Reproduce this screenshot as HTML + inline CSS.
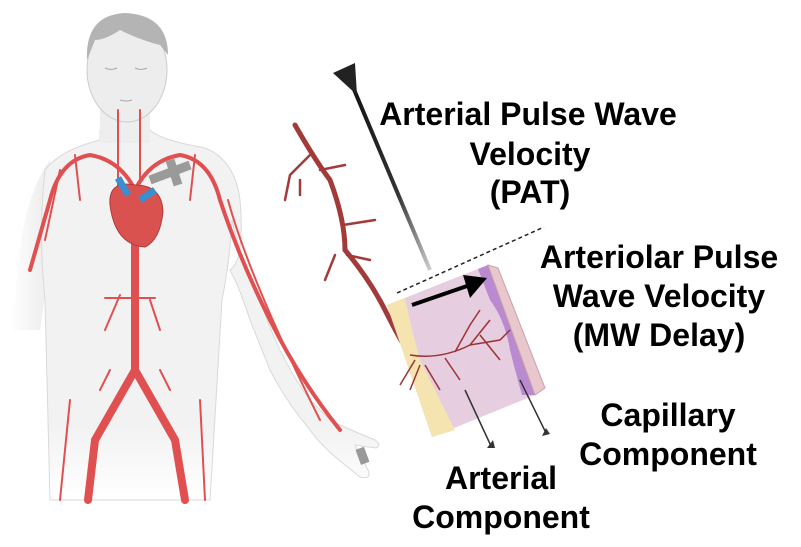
<!DOCTYPE html>
<html><head><style>
html,body{margin:0;padding:0;background:#fff;}
svg{display:block;}
text{font-family:"Liberation Sans",Arial,sans-serif;font-weight:bold;font-size:32px;fill:#000;}
</style></head><body>
<svg width="801" height="547" viewBox="0 0 801 547" xmlns="http://www.w3.org/2000/svg">
<defs>
<linearGradient id="fadeB" x1="0" y1="0" x2="0" y2="1">
<stop offset="0.8" stop-color="#f2f2f2"/><stop offset="1" stop-color="#fff"/></linearGradient>
<linearGradient id="fadeL" x1="0" y1="0" x2="1" y2="0">
<stop offset="0" stop-color="#fff"/><stop offset="0.6" stop-color="#f0f0f0"/></linearGradient>
<linearGradient id="stick" x1="0" y1="0" x2="1" y2="1">
<stop offset="0" stop-color="#111"/><stop offset="0.6" stop-color="#333"/><stop offset="1" stop-color="#ccc"/></linearGradient>
</defs>
<path d="M50,160 Q20,200 15,300 L10,330 L40,330 Q50,260 60,200 Z" fill="url(#fadeL)"/>
<path d="M100,130 L100,140 Q60,150 45,170 Q38,230 45,300 L50,500 L210,500 L222,300 Q230,260 232,220 Q240,260 260,300 Q280,360 310,400 L330,420 Q350,430 375,440 Q382,445 376,448 L355,445 L368,470 Q372,480 360,477 L345,465 Q320,445 310,430 Q285,400 270,370 L250,320 Q240,290 235,280 L230,270 Q245,260 240,200 Q235,160 205,148 Q160,140 150,130 Z" fill="url(#fadeB)" stroke="#d9d9d9" stroke-width="1"/>
<rect x="100" y="95" width="50" height="48" fill="#eee"/>
<ellipse cx="127" cy="70" rx="40" ry="52" fill="#ededed" stroke="#ccc"/>
<path d="M87,60 Q85,15 125,13 Q168,15 168,55 L160,45 Q140,40 120,30 Q105,40 95,40 Z" fill="#b4b4b4"/>
<path d="M105,68 q6,3 12,0 M135,68 q6,3 12,0 M120,100 q6,2 12,0" stroke="#aaa" fill="none"/>
<g stroke="#e05050" fill="none" stroke-linecap="round">
<path d="M135,240 L135,370 L95,440 L88,500 M135,370 L175,440 L185,500" stroke-width="8"/>
<path d="M135,190 Q120,160 90,155 Q60,160 50,200 L30,270 M135,190 Q150,160 180,155 Q210,160 220,200 Q240,260 270,320 Q300,380 340,430" stroke-width="4"/>
<path d="M118,190 L118,110 M140,180 L140,110 M105,298 L155,298 M120,295 L105,330 M150,300 L160,330 M110,370 L100,390 M160,370 L170,390 M70,400 L60,500 M200,400 L205,500 M228,200 Q250,280 320,420 M60,170 L45,240 M75,155 L80,200 M195,155 L190,200" stroke-width="2"/>
</g>
<path d="M110,205 Q108,180 135,185 Q162,185 163,212 Q160,240 145,247 Q115,245 110,205Z" fill="#d9524f" stroke="#b03a3a"/>
<path d="M118,178 L128,195 M140,200 L155,190" stroke="#3a8fd0" stroke-width="7"/>
<path d="M150,180 L190,165 M170,160 L178,185" stroke="#9a9a9a" stroke-width="9"/>
<rect x="358" y="448" width="9" height="16" fill="#999" transform="rotate(-20 362 456)"/>
<g stroke="#a33a3a" fill="none" stroke-linecap="round">
<path d="M295,125 Q315,160 330,180 Q345,220 345,250 Q370,280 385,310 Q400,340 410,355" stroke-width="5"/>
<path d="M310,155 L290,175 L285,200 M320,170 L345,165 M300,180 L300,195 M343,225 L375,220 M335,255 L325,280 M347,255 L370,260" stroke-width="2.5"/>
</g>
<line x1="350" y1="80" x2="430" y2="270" stroke="url(#stick)" stroke-width="4"/>
<polygon points="333,73 355,63 357,95" fill="#222"/>
<polygon points="387,305 488,265 535,395 432,437" fill="#e6cde0"/>
<polygon points="387,305 405,298 412,330 420,360 440,400 455,430 432,437" fill="#f5e3b0"/>
<path d="M478,269 L488,265 535,395 522,395 Q515,370 510,350 Q505,320 490,300 Z" fill="#b98ad0"/>
<polygon points="488,265 498,268 545,388 535,395" fill="#e8c8cc" stroke="#c9a0a8"/>
<g stroke="#9c3232" fill="none" stroke-width="1.5">
<path d="M410,355 Q440,360 470,345 L490,320 M470,345 L500,340 L510,330 M455,352 L470,325 L480,310 M420,365 L410,390 M425,365 L440,390 M415,360 L400,385 M445,358 L460,380 M480,335 L500,360"/>
</g>
<line x1="397" y1="293" x2="544" y2="227" stroke="#222" stroke-width="1.5" stroke-dasharray="4,3"/>
<line x1="412" y1="305" x2="470" y2="285" stroke="#000" stroke-width="4"/>
<polygon points="463,275 487,278 470,298" fill="#000"/>
<line x1="465" y1="390" x2="491" y2="446" stroke="#333" stroke-width="1.5"/>
<polygon points="487,448 495,448 493,440" fill="#333"/>
<line x1="520" y1="380" x2="546" y2="433" stroke="#333" stroke-width="1.5"/>
<polygon points="542,436 550,434 546,428" fill="#333"/>
<text x="528" y="125" text-anchor="middle">Arterial Pulse Wave</text>
<text x="530" y="165" text-anchor="middle">Velocity</text>
<text x="530" y="203" text-anchor="middle">(PAT)</text>
<text x="659" y="268" text-anchor="middle">Arteriolar Pulse</text>
<text x="659" y="307" text-anchor="middle">Wave Velocity</text>
<text x="659" y="346" text-anchor="middle">(MW Delay)</text>
<text x="668" y="426" text-anchor="middle">Capillary</text>
<text x="668" y="465" text-anchor="middle">Component</text>
<text x="501" y="489" text-anchor="middle">Arterial</text>
<text x="501" y="528" text-anchor="middle">Component</text>
</svg>
</body></html>
